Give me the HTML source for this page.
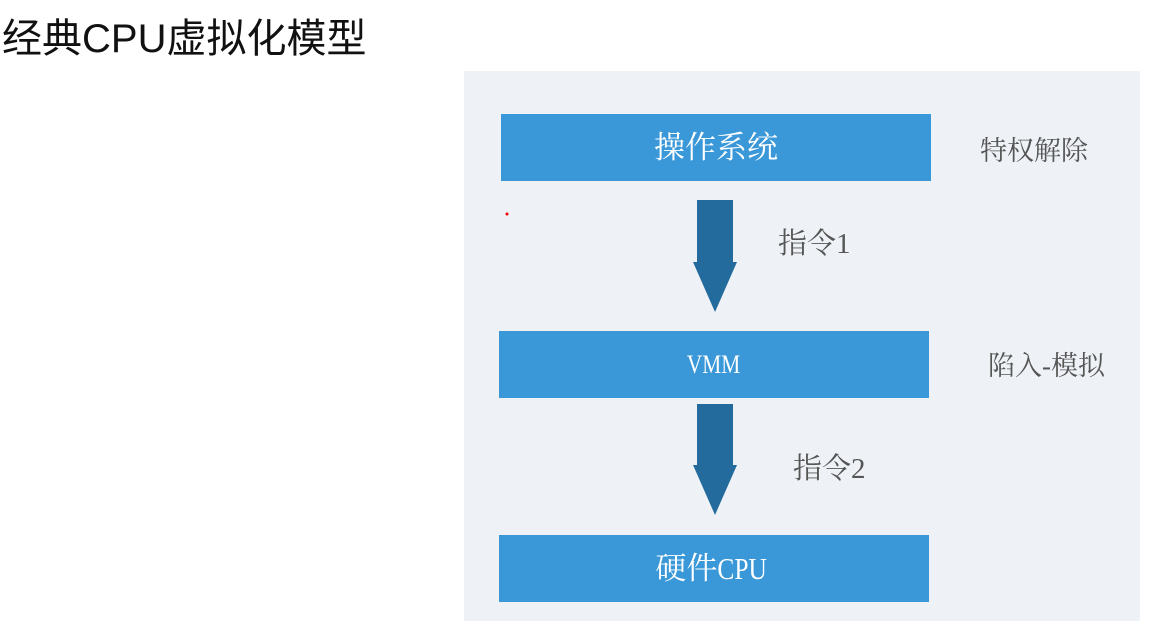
<!DOCTYPE html>
<html><head><meta charset="utf-8"><style>
body{margin:0;width:1152px;height:621px;background:#fff;position:relative;overflow:hidden;font-family:"Liberation Serif","Noto Serif CJK SC",serif;}
.t{position:absolute;left:2px;top:6px;font-family:"Liberation Sans","Noto Sans CJK SC",sans-serif;font-size:40px;color:#111;white-space:nowrap;}
.p{position:absolute;left:464px;top:71px;width:676px;height:550px;background:#eef2f7;}
.b{position:absolute;background:#3a98d8;color:#fff;text-align:center;font-size:31px;}
.l{position:absolute;color:#555;font-size:27px;white-space:nowrap;}
.n{display:inline-block;transform:scaleX(0.82);}
</style></head><body>
<div class="t">经典CPU虚拟化模型</div>
<div class="p"></div>
<div class="b" style="left:501px;top:114px;width:430px;height:67px;line-height:67px;">操作系统</div>
<div class="b" style="left:499px;top:331px;width:430px;height:67px;line-height:67px;font-size:26px;"><span class="n">VMM</span></div>
<div class="b" style="left:499px;top:535px;width:430px;height:67px;line-height:67px;">硬件<span class="n" style="margin-left:-5px">CPU</span></div>
<svg style="position:absolute;left:0;top:0" width="1152" height="621">
<polygon points="697,200 733,200 733,262 737,262 715,312 693,262 697,262" fill="#246b9d"/>
<polygon points="697,404 733,404 733,465 737,465 715,515 693,465 697,465" fill="#246b9d"/>
<circle cx="507" cy="214" r="1.5" fill="#e00"/>
</svg>
<div class="l" style="left:980px;top:129px;">特权解除</div>
<div class="l" style="left:778px;top:221px;font-size:29px;">指令1</div>
<div class="l" style="left:988px;top:344px;">陷入-模拟</div>
<div class="l" style="left:793px;top:446px;font-size:29px;">指令2</div>
</body></html>
